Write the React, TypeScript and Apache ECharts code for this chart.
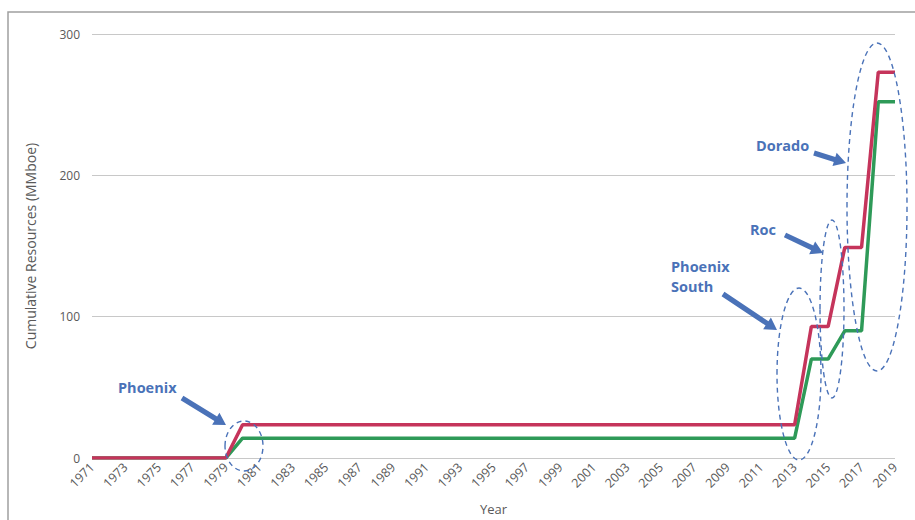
import React, { useEffect, useRef } from "react";
import * as echarts from "echarts";

const years = [
  "1971", "1972", "1973", "1974", "1975", "1976", "1977", "1978", "1979", "1980",
  "1981", "1982", "1983", "1984", "1985", "1986", "1987", "1988", "1989", "1990",
  "1991", "1992", "1993", "1994", "1995", "1996", "1997", "1998", "1999", "2000",
  "2001", "2002", "2003", "2004", "2005", "2006", "2007", "2008", "2009", "2010",
  "2011", "2012", "2013", "2014", "2015", "2016", "2017", "2018", "2019",
];

// 1971-1979 zeros, 1980-2013 flat, then steps
const redSeries = [
  0, 0, 0, 0, 0, 0, 0, 0, 0,
  23.5, 23.5, 23.5, 23.5, 23.5, 23.5, 23.5, 23.5, 23.5, 23.5,
  23.5, 23.5, 23.5, 23.5, 23.5, 23.5, 23.5, 23.5, 23.5, 23.5,
  23.5, 23.5, 23.5, 23.5, 23.5, 23.5, 23.5, 23.5, 23.5, 23.5,
  23.5, 23.5, 23.5, 23.5,
  93, 93, 149, 149, 273, 273,
];

const greenSeries = [
  0, 0, 0, 0, 0, 0, 0, 0, 0,
  14, 14, 14, 14, 14, 14, 14, 14, 14, 14,
  14, 14, 14, 14, 14, 14, 14, 14, 14, 14,
  14, 14, 14, 14, 14, 14, 14, 14, 14, 14,
  14, 14, 14, 14,
  70, 70, 90, 90, 252, 252,
];

const yTicks = [0, 100, 200, 300];

const BLUE = "#4a72b8";

function arrow(x1: number, y1: number, x2: number, y2: number) {
  const dx = x2 - x1;
  const dy = y2 - y1;
  const len = Math.sqrt(dx * dx + dy * dy);
  const ux = dx / len;
  const uy = dy / len;
  const px = -uy;
  const py = ux;
  const headLen = 12;
  const shaftW = 2.6;
  const headW = 7;
  const bx = x2 - ux * headLen;
  const by = y2 - uy * headLen;
  return {
    type: "polygon",
    shape: {
      points: [
        [x1 + px * shaftW, y1 + py * shaftW],
        [bx + px * shaftW, by + py * shaftW],
        [bx + px * headW, by + py * headW],
        [x2, y2],
        [bx - px * headW, by - py * headW],
        [bx - px * shaftW, by - py * shaftW],
        [x1 - px * shaftW, y1 - py * shaftW],
      ],
    },
    style: { fill: BLUE },
    z: 100,
  };
}

function ellipse(cx: number, cy: number, rx: number, ry: number) {
  return {
    type: "ellipse",
    shape: { cx, cy, rx, ry },
    style: { fill: "none", stroke: BLUE, lineWidth: 1.4, lineDash: [5, 4] },
    z: 100,
  };
}

function label(text: string, x: number, y: number) {
  return {
    type: "text",
    x,
    y,
    style: {
      text,
      fill: BLUE,
      font: "bold 14.5px 'Open Sans', sans-serif",
      lineHeight: 16,
      align: "left",
      verticalAlign: "top",
    },
    z: 100,
  };
}

export default function App() {
  const ref = useRef<HTMLDivElement>(null);
  useEffect(() => {
    if (!ref.current) return;
    const chart = echarts.init(ref.current, undefined, { renderer: "svg" });
    chart.setOption({
      animation: false,
      backgroundColor: "#ffffff",
      grid: { left: 92, right: 20, top: 34, bottom: 60 },
      xAxis: {
        type: "category",
        data: years,
        boundaryGap: false,
        name: "Year",
        nameLocation: "middle",
        nameGap: 44,
        nameTextStyle: { color: "#595959", fontSize: 13, fontFamily: "Open Sans" },
        axisLine: { show: false },
        axisTick: { show: false },
        axisLabel: {
          interval: 1,
          rotate: 45,
          color: "#595959",
          fontSize: 12.5,
          fontFamily: "Open Sans",
          margin: 7,
        },
        splitLine: { show: false },
      },
      yAxis: {
        type: "value",
        min: yTicks[0],
        max: yTicks[yTicks.length - 1],
        interval: 100,
        name: "Cumulative Resources (MMboe)",
        nameLocation: "middle",
        nameGap: 55,
        nameTextStyle: { color: "#595959", fontSize: 14, fontFamily: "Open Sans" },
        axisLine: { show: false },
        axisTick: { show: false },
        axisLabel: { color: "#595959", fontSize: 12, fontFamily: "Open Sans", margin: 12 },
        splitLine: { lineStyle: { color: "#c8c8c8", width: 1 } },
      },
      series: [
        {
          name: "Green",
          type: "line",
          data: greenSeries,
          showSymbol: false,
          lineStyle: { color: "#2e9a58", width: 3.5 },
          itemStyle: { color: "#2e9a58" },
          z: 2,
        },
        {
          name: "Red",
          type: "line",
          data: redSeries,
          showSymbol: false,
          lineStyle: { color: "#c5345b", width: 3.5 },
          itemStyle: { color: "#c5345b" },
          z: 3,
        },
      ],
      graphic: [
        {
          type: "rect",
          shape: { x: 8, y: 12, width: 1000, height: 600 },
          style: { fill: "none", stroke: "#a0a0a0", lineWidth: 1.5 },
          z: 0,
        },
        ellipse(244, 446, 19, 25),
        ellipse(799, 374, 22, 86),
        ellipse(832, 309, 12, 89),
        ellipse(877, 207, 30, 164),
        label("Phoenix", 118, 379),
        arrow(182, 398, 226, 425),
        label("Phoenix", 671, 258),
        label("South", 671, 278),
        arrow(723, 294, 777, 330),
        label("Roc", 750, 221),
        arrow(785, 235, 823, 253),
        label("Dorado", 756, 137),
        arrow(814, 153, 846, 163),
      ],
    });
    return () => chart.dispose();
  }, []);
  return (
    <div
      ref={ref}
      style={{ position: "absolute", left: 0, top: 0, width: 915, height: 520 }}
    />
  );
}
